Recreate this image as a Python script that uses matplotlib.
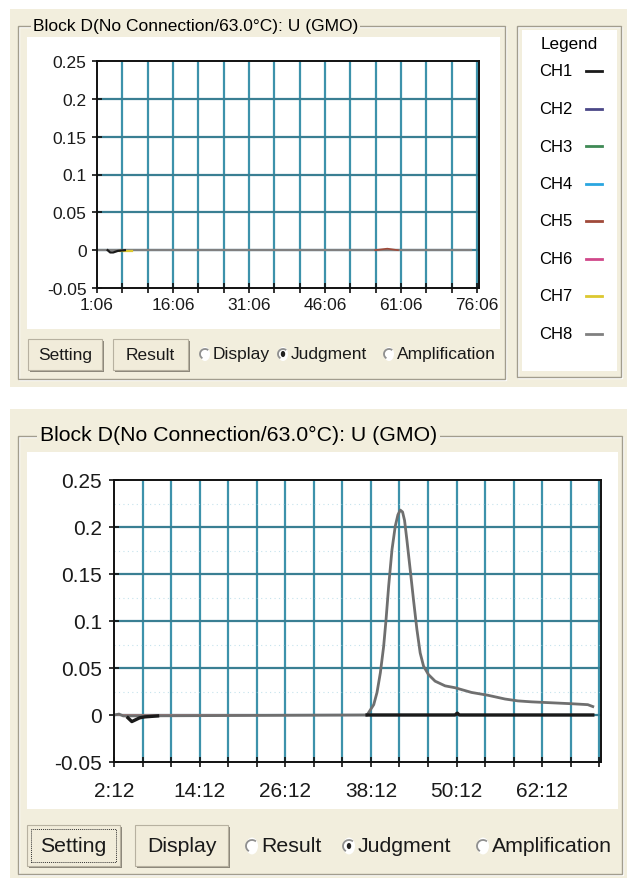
import numpy as np
import matplotlib
matplotlib.use('Agg')
import matplotlib.pyplot as plt
from matplotlib.patches import Rectangle, Circle, Arc

plt.rcParams['font.family'] = ['Liberation Sans', 'DejaVu Sans']

W, H = 627, 879

title = 'Block D(No Connection/63.0°C): U (GMO)'
y_ticks = [0.25, 0.2, 0.15, 0.1, 0.05, 0, -0.05]
y_ticklabels = ['0.25', '0.2', '0.15', '0.1', '0.05', '0', '-0.05']

channels = ['CH1', 'CH2', 'CH3', 'CH4', 'CH5', 'CH6', 'CH7', 'CH8']
channel_colors = ['#1a1a1a', '#4b4888', '#3f8a55', '#2aa6e0', '#a04a3a', '#d0488a', '#dcc830', '#808080']

# upper screen (time in minutes)
top_xlabels = ['1:06', '16:06', '31:06', '46:06', '61:06', '76:06']
top_ch8_t = [1.1, 75.0]
top_ch8_v = [0.0, 0.0]
top_ch1_t = [3.2, 3.7, 4.3, 5.2, 6.6]
top_ch1_v = [0.0, -0.003, -0.003, -0.001, 0.0]
top_ch7_t = [5.6, 6.6, 8.0]
top_ch7_v = [-0.001, -0.001, -0.001]
top_ch5_t = [56.0, 58.4, 60.5]
top_ch5_v = [0.0, 0.002, 0.0]

# lower screen
nan = float('nan')
bot_xlabels = ['2:12', '14:12', '26:12', '38:12', '50:12', '62:12']
bot_ch8_t = [2.2, 2.9, 3.5, 37.67, 38.6, 39.06, 39.53, 39.99, 40.32, 40.69, 41.16, 41.62, 41.99,
             42.32, 42.64, 42.92, 43.25, 43.72, 44.18, 44.65, 45.11, 45.58, 46.27, 47.2, 48.6,
             50.0, 52.3, 54.6, 57.0, 58.8, 60.7, 63.5, 66.3, 68.6, 69.3]
bot_ch8_v = [0.0, 0.001, -0.001, 0.0, 0.011, 0.024, 0.045, 0.073, 0.101, 0.137, 0.176, 0.201, 0.213,
             0.218, 0.216, 0.207, 0.186, 0.154, 0.122, 0.091, 0.066, 0.052, 0.043, 0.036, 0.031,
             0.029, 0.024, 0.021, 0.017, 0.015, 0.014, 0.013, 0.012, 0.011, 0.009]
bot_ch1_t = [4.15, 4.7, 5.8, 6.5, 8.3, nan, 37.67, 50.0, 50.3, 50.6, 69.3]
bot_ch1_v = [-0.003, -0.007, -0.003, -0.002, -0.001, nan, 0.0, 0.0, 0.002, 0.0, 0.0]
bot_ch5_t = [2.2, 37.67]
bot_ch5_v = [0.0, 0.0]

CREAM = '#f2eedd'
GRID = '#3d92ab'
HGRID = '#3a7f93'

fig = plt.figure(figsize=(W / 100, H / 100), dpi=100, facecolor='white')


def fx(x):
    return x / W


def fy(y):
    return 1 - y / H


def rect(x0, y0, x1, y1, **kw):
    r = Rectangle((fx(x0), fy(y1)), (x1 - x0) / W, (y1 - y0) / H,
                  transform=fig.transFigure, zorder=-5, **kw)
    fig.patches.append(r)


def groupbox(x0, y0, x1, y1):
    rect(x0 + 1, y0 + 1, x1 + 1, y1 + 1, facecolor='none', edgecolor='white', lw=1)
    rect(x0, y0, x1, y1, facecolor='none', edgecolor='#a29d8e', lw=1)


def button(x0, y0, x1, y1, label, size, focus=False):
    rect(x0 + 2, y0 + 2, x1 + 2, y1 + 2, facecolor='#8c877a', edgecolor='none')
    rect(x0, y0, x1, y1, facecolor='#f1ecda', edgecolor='#b7b1a0', lw=0.8)
    if focus:
        rect(x0 + 4, y0 + 4, x1 - 4, y1 - 4, facecolor='none', edgecolor='#333333',
             lw=0.7, linestyle=(0, (1, 1)))
    fig.text(fx((x0 + x1) / 2), fy((y0 + y1) / 2), label, fontsize=size,
             ha='center', va='center', color='#1a1a1a')


def radio(x, y, r, label, size, checked=False):
    fig.patches.append(Circle((fx(x), fy(y)), r / W, transform=fig.transFigure,
                              facecolor='white', edgecolor='none', zorder=-4))
    fig.patches.append(Arc((fx(x), fy(y)), 2 * r / W, 2 * r / H, theta1=40, theta2=230,
                           transform=fig.transFigure, color='#8f8f8f', lw=1.3, zorder=-3))
    if checked:
        fig.patches.append(Circle((fx(x), fy(y)), 2.2 / W, transform=fig.transFigure,
                                  facecolor='#222222', edgecolor='none', zorder=-3))
    fig.text(fx(x + r + 3), fy(y), label, fontsize=size, ha='left', va='center', color='#1a1a1a')


def minutes(lbl):
    m, s = lbl.split(':')
    return int(m) + int(s) / 60


def make_axes(x0, y0, x1, y1, fs, t0, step, nsteps, labels, xmax):
    ax = fig.add_axes([fx(x0), fy(y1), (x1 - x0) / W, (y1 - y0) / H])
    ax.set_zorder(5)
    ax.set_facecolor('white')
    ticks = [t0 + step * k for k in range(nsteps + 1)]
    lab_pos = {round(minutes(l), 2): l for l in labels}
    ax.set_xticks(ticks)
    ax.set_xticklabels([lab_pos.get(round(t, 2), '') for t in ticks], fontsize=fs)
    ax.set_yticks(y_ticks)
    ax.set_yticklabels(y_ticklabels, fontsize=fs)
    ax.set_xlim(t0, xmax)
    ax.set_ylim(-0.05, 0.25)
    for t in ticks[1:]:
        ax.axvline(t, color=GRID, lw=1.6, zorder=1)
    for v in y_ticks[1:-1]:
        ax.axhline(v, color=HGRID, lw=1.6, zorder=1)
    for sp in ax.spines.values():
        sp.set_color('#111111')
        sp.set_linewidth(1.4)
        sp.set_zorder(3)
    ax.tick_params(direction='inout', length=7, width=1.2, color='#111111',
                   labelcolor='#1a1a1a')
    return ax


# ---------- upper screen ----------
rect(10, 10, 627, 388, facecolor=CREAM, edgecolor='none')
groupbox(18, 27, 505, 380)
rect(27, 38, 500, 330, facecolor='white', edgecolor='none')
fig.text(fx(33), fy(27), title, fontsize=12.5, ha='left', va='center',
         bbox=dict(facecolor=CREAM, edgecolor='none', pad=1.5))

ax1 = make_axes(97, 62, 479, 289, 12.5, 1.1, 5, 15, top_xlabels, 76.5)
ax1.tick_params(axis='x', pad=3)
ax1.tick_params(axis='y', pad=4)
ax1.plot(top_ch8_t, top_ch8_v, color=channel_colors[7], lw=1.6, zorder=2)
ax1.plot(top_ch5_t, top_ch5_v, color=channel_colors[4], lw=1.2, zorder=2)
ax1.plot(top_ch7_t, top_ch7_v, color=channel_colors[6], lw=1.6, zorder=2)
ax1.plot(top_ch1_t, top_ch1_v, color=channel_colors[0], lw=1.6, zorder=2)

button(28, 340, 102, 371, 'Setting', 12.5)
button(113, 340, 188, 371, 'Result', 12.5)
radio(205, 355, 5, 'Display', 12.5)
radio(283, 355, 5, 'Judgment', 12.5, checked=True)
radio(389, 355, 5, 'Amplification', 12.5)

# legend box
groupbox(517, 27, 621, 378)
rect(522, 31, 617, 372, facecolor='white', edgecolor='none')
fig.text(fx(569), fy(44), 'Legend', fontsize=12.3, ha='center', va='center')
for i, (name, col) in enumerate(zip(channels, channel_colors)):
    yy = 72 + i * 37.5
    fig.text(fx(556), fy(yy), name, fontsize=12, ha='center', va='center')
    fig.lines.append(plt.Line2D([fx(586), fx(602)], [fy(yy), fy(yy)], color=col, lw=2,
                                transform=fig.transFigure))

# ---------- lower screen ----------
rect(10, 410, 627, 879, facecolor=CREAM, edgecolor='none')
groupbox(18, 437, 622, 875)
rect(27, 453, 618, 810, facecolor='white', edgecolor='none')
fig.text(fx(40), fy(435), title, fontsize=15.3, ha='left', va='center',
         bbox=dict(facecolor=CREAM, edgecolor='none', pad=2))

ax2 = make_axes(114, 481, 601, 763, 15, 2.2, 4, 17, bot_xlabels, 70.45)
ax2.tick_params(axis='x', pad=10)
ax2.tick_params(axis='y', pad=5)
for v in [0.225, 0.175, 0.125, 0.075, 0.025]:
    ax2.axhline(v, color='#9fd0e0', lw=0.8, ls=(0, (1, 3)), alpha=0.6, zorder=1)
ax2.plot(bot_ch5_t, bot_ch5_v, color='#b08080', lw=1.5, zorder=2)
ax2.plot(bot_ch8_t, bot_ch8_v, color='#6f6f6f', lw=2.0, zorder=2)
ax2.plot(bot_ch1_t, bot_ch1_v, color=channel_colors[0], lw=2.4, zorder=2)

button(27, 826, 120, 867, 'Setting', 15.3, focus=True)
button(135, 826, 228, 867, 'Display', 15.3)
radio(252, 847, 6, 'Result', 15.3)
radio(349, 847, 6, 'Judgment', 15.3, checked=True)
radio(483, 847, 6, 'Amplification', 15.3)

fig.savefig('out.png', dpi=100, facecolor=fig.get_facecolor())
